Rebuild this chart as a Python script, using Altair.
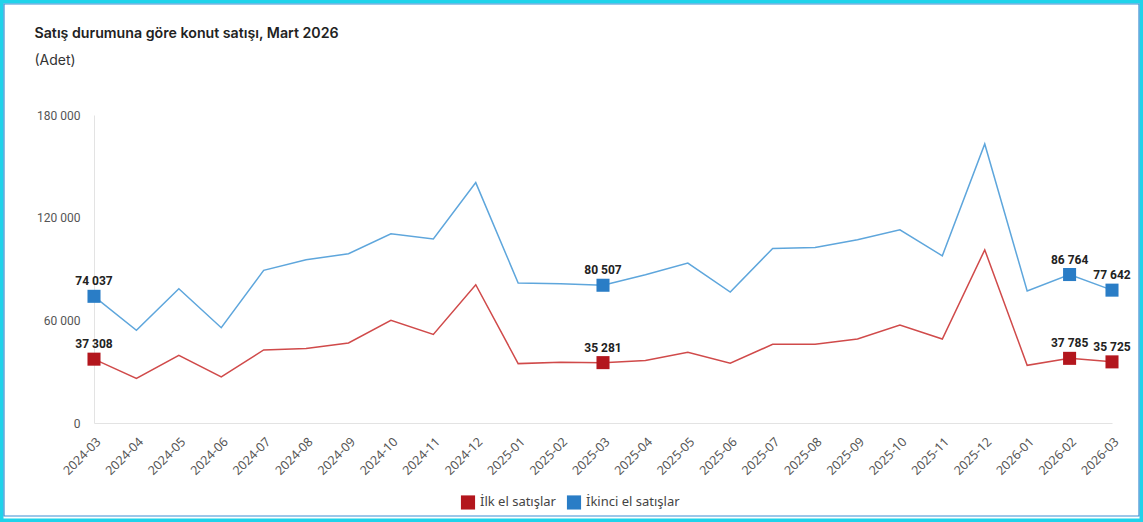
import altair as alt
import pandas as pd

months = ["2024-03","2024-04","2024-05","2024-06","2024-07","2024-08","2024-09","2024-10",
          "2024-11","2024-12","2025-01","2025-02","2025-03","2025-04","2025-05","2025-06",
          "2025-07","2025-08","2025-09","2025-10","2025-11","2025-12","2026-01","2026-02","2026-03"]
ilk_el = [37308, 26100, 39600, 27000, 42700, 43600, 46800, 60000, 51800, 80800, 34700, 35500,
          35281, 36500, 41300, 34900, 46000, 46000, 49100, 57300, 49100, 101200, 33700, 37785, 35725]
ikinci_el = [74037, 54200, 78500, 55700, 89200, 95400, 98900, 110600, 107500, 140500, 81800, 81400,
             80507, 86600, 93500, 76500, 102000, 102600, 107100, 112900, 97700, 163100, 77100, 86764, 77642]
series = ["İlk el satışlar", "İkinci el satışlar"]
line_colors = ["#d04a4a", "#5ea6dc"]
marker_colors = ["#b3161d", "#2a7dc6"]
labelled = ["2024-03", "2025-03", "2026-02", "2026-03"]
y_ticks = [0, 60000, 120000, 180000]

rows = []
for s, vals in zip(series, [ilk_el, ikinci_el]):
    for m, v in zip(months, vals):
        rows.append({"ay": m, "seri": s, "deger": v,
                     "etiket": f"{v:,}".replace(",", " ")})
df = pd.DataFrame(rows)
df_lab = df[df["ay"].isin(labelled)]

W, H = 1018, 308
PL, PT = 94, 115
TW, TH = 1143, 522

x_enc = alt.X("ay:N", sort=months, title=None,
              scale=alt.Scale(type="point", padding=0),
              axis=alt.Axis(labelAngle=-45, labelFontSize=12.5, labelColor="#555555",
                            labelFont="Noto Sans", ticks=False, domainColor="#e3e3e3",
                            labelPadding=12, grid=False))
y_enc = alt.Y("deger:Q", title=None,
              scale=alt.Scale(domain=[0, 180000], nice=False),
              axis=alt.Axis(values=y_ticks, grid=False, ticks=False, domainColor="#e3e3e3",
                            labelFontSize=12, labelColor="#555555", labelFont="Roboto",
                            labelPadding=14,
                            labelExpr="replace(format(datum.value, ','), /,/g, ' ')"))

one = pd.DataFrame({"k": [0]})
outer = alt.Chart(one).mark_rect(fill=None, stroke="#1fd3ea", strokeWidth=7).encode(
    x=alt.value(-PL), x2=alt.value(TW - PL),
    y=alt.value(-PT), y2=alt.value(TH - PT)
)
inner = alt.Chart(one).mark_rect(fill=None, stroke="#3b8fd3", strokeWidth=1.2).encode(
    x=alt.value(-PL + 4), x2=alt.value(TW - PL - 4),
    y=alt.value(-PT + 4), y2=alt.value(TH - PT - 6)
)

line_layers = [
    alt.Chart(df).transform_filter(alt.datum.seri == s)
    .mark_line(strokeWidth=1.5, color=c).encode(x=x_enc, y=y_enc)
    for s, c in zip(series, line_colors)
]
pts = alt.Chart(df_lab).mark_square(size=170, opacity=1).encode(
    x=alt.X("ay:N", sort=months), y="deger:Q",
    color=alt.Color("seri:N", sort=series,
                    scale=alt.Scale(domain=series, range=marker_colors),
                    legend=alt.Legend(title=None, orient="none", legendX=366, legendY=379,
                                      direction="horizontal", symbolType="square",
                                      symbolSize=200,
                                      labelFontSize=13, labelColor="#444444",
                                      labelFont="Noto Sans", columnPadding=10))
)
texts = alt.Chart(df_lab).mark_text(dy=-15, fontSize=12, fontWeight="bold",
                                    font="Roboto", color="#222222").encode(
    x=alt.X("ay:N", sort=months), y="deger:Q", text="etiket:N"
)

chart = alt.layer(*line_layers, pts, texts, outer, inner).properties(
    width=W, height=H,
    title=alt.TitleParams(
        text="Satış durumuna göre konut satışı, Mart 2026",
        subtitle="(Adet)",
        anchor="start", dx=38, offset=-71,
        font="Inter", fontSize=14.2, fontWeight=600, color="#222222",
        subtitleFont="Inter", subtitleFontSize=14, subtitleColor="#333333",
        subtitlePadding=12
    ),
    autosize=alt.AutoSizeParams(type="none"),
    padding={"left": PL, "top": PT, "right": TW - PL - W, "bottom": TH - PT - H},
    background="white"
).configure_view(stroke=None)

chart.save("out.html", embed_options={"renderer": "svg", "actions": False})
